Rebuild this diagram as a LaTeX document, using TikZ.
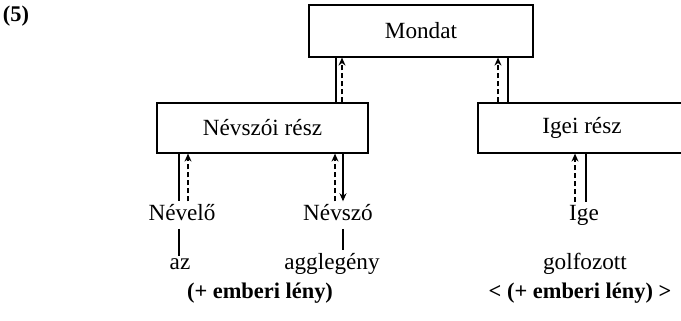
\documentclass[tikz,border=0pt]{standalone}
\usepackage{fontspec}
\setmainfont{Liberation Serif}
\usetikzlibrary{arrows.meta,calc}
\begin{document}
\begin{tikzpicture}[x=0.5pt,y=-0.5pt,line width=0.6pt,
    font=\fontsize{11.6}{13}\selectfont,
    doboz/.style={draw,inner sep=0pt,minimum height=25pt},
    szo/.style={inner sep=1pt,anchor=base},
    kiemelt/.style={szo,font=\bfseries\fontsize{11.2}{13}\selectfont},
    fel/.style={-{Stealth[length=4pt,width=3.5pt]}},
    szagg/.style={dash pattern=on 2.5pt off 1.5pt}]
        \useasboundingbox (0,0) rectangle (681,321);
        \clip (0,0) rectangle (681,321);

        \node[kiemelt] (sorszam) at (16,21) {(5)};

        \node[doboz,minimum width=112pt,minimum height=26pt] (mondat) at (421,31) {Mondat};
        \node[doboz,minimum width=105.5pt] (nevszoi) at (262.5,128) {Névszói rész};
        \node[doboz,minimum width=104pt] (igei) at (582,128) {Igei rész};

        \node[szo] (nevelo) at (182,220) {Névelő};
        \node[szo] (nevszo) at (338,220) {Névszó};
        \node[szo] (ige) at (584,220) {Ige};

        \node[szo] (az) at (180,269) {az};
        \node[szo] (agglegeny) at (332,269) {agglegény};
        \node[szo] (golfozott) at (585,269) {golfozott};

        \node[kiemelt] (emberi) at (260,298) {(+ emberi lény)};
        \node[kiemelt] (emberige) at (580,298) {< (+ emberi lény) >};

        % Mondat
        \coordinate (m1) at ($(nevszo.north)+(-2,0)$);
        \coordinate (m2) at ($(nevszo.north)+(4,0)$);
        \coordinate (m3) at ($(igei.north)+(-84,0)$);
        \coordinate (m4) at ($(igei.north)+(-74,0)$);
        \draw (m1 |- nevszoi.north) -- (m1 |- mondat.south);
        \draw[szagg,fel] (m2 |- nevszoi.north) -- (m2 |- mondat.south);
        \draw[szagg,fel] (m3 |- igei.north) -- (m3 |- mondat.south);
        \draw (m4 |- igei.north) -- (m4 |- mondat.south);

        % also szint
        \coordinate (n1) at ($(nevelo.north)+(-3,0)$);
        \coordinate (n2) at ($(nevelo.north)+(6,0)$);
        \coordinate (n3) at ($(nevszo.north)+(-3,0)$);
        \coordinate (n4) at ($(nevszo.north)+(5,0)$);
        \coordinate (n5) at ($(ige.north)+(-9,0)$);
        \coordinate (n6) at ($(ige.north)+(2,0)$);
        \draw (nevszoi.south -| n1) -- (n1);
        \draw[szagg,fel] (n2) -- (nevszoi.south -| n2);
        \draw[szagg,fel] (n3) -- (nevszoi.south -| n3);
        \draw[fel] (nevszoi.south -| n4) -- (n4);
        \draw[szagg,fel] (n5) -- (igei.south -| n5);
        \draw (igei.south -| n6) -- (n6);

        \draw[shorten <=3pt] (nevelo.south -| n1) -- (az.north -| n1);
        \draw[shorten <=3pt] (nevszo.south -| n4) -- (agglegeny.north -| n4);

\end{tikzpicture}
\end{document}
